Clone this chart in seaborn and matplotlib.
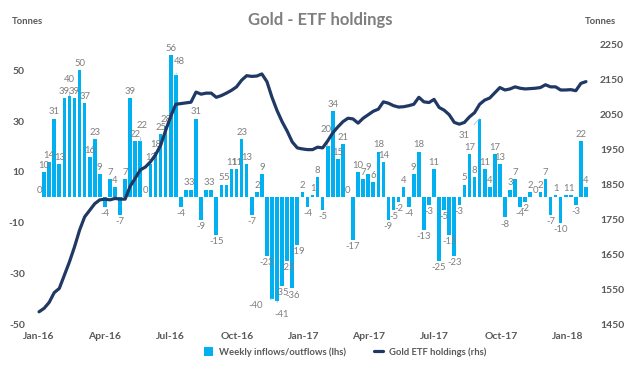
import numpy as np
import pandas as pd
import matplotlib
matplotlib.use("Agg")
import matplotlib.pyplot as plt
import seaborn as sns
from matplotlib.lines import Line2D
from matplotlib.patches import Patch

# ---------------- data ----------------
start_date = "2016-01-01"
flows = [0, 10, 14, 31, 13, 39, 40, 39, 50, 37, 16, 23, 9, -4, 7, 4, -7, 7, 39, 22,
         22, 0, 13, 18, 25, 28, 56, 48, -4, 3, 3, 31, -9, 3, 3, -15, 5, 5, 11, 11,
         23, 13, -7, 2, 9, -23, -40, -41, -35, -25, -36, -19, 2, -4, 1, 8, -5, 20, 34, 15,
         21, 0, -17, 10, 7, 9, 6, 18, 14, -9, -5, -2, 4, -4, 9, 18, -13, -3, 11, -25,
         -5, -15, -23, -3, 5, 17, 8, 31, 11, 4, 17, 13, -8, 3, 7, -4, -2, 2, 0, 2,
         7, -7, 1, -10, 1, 1, -3, 22, 4]
holdings = [1485, 1495, 1512, 1540, 1552, 1590, 1628, 1671, 1719, 1757, 1776, 1795, 1806, 1808,
            1806, 1810, 1808, 1808, 1845, 1868, 1892, 1900, 1915, 1935, 1962, 2005, 2045, 2080,
            2082, 2084, 2086, 2115, 2109, 2112, 2112, 2100, 2105, 2112, 2120, 2130, 2149, 2162,
            2160, 2161, 2167, 2145, 2100, 2062, 2030, 2003, 1972, 1955, 1952, 1950, 1950, 1957,
            1955, 1975, 1998, 2015, 2030, 2040, 2038, 2026, 2040, 2050, 2060, 2066, 2087, 2083,
            2076, 2072, 2073, 2076, 2080, 2100, 2087, 2085, 2094, 2071, 2063, 2050, 2028, 2023,
            2028, 2044, 2056, 2080, 2092, 2098, 2113, 2128, 2121, 2124, 2130, 2126, 2124, 2125,
            2126, 2128, 2136, 2130, 2130, 2121, 2121, 2122, 2119, 2140, 2145]
tick_dates = pd.date_range("2016-01-01", "2018-01-01", freq="QS")
tick_labels = [d.strftime("%b-%y") for d in tick_dates]
left_ticks = [-50, -30, -10, 10, 30, 50]
right_ticks = list(range(1450, 2251, 100))
title = "Gold - ETF holdings"
bar_name = "Weekly inflows/outflows (lhs)"
line_name = "Gold ETF holdings (rhs)"

# ---------------- style ----------------
BAR = "#00b0f0"
LINE = "#1f3864"
TXT = "#595959"
LBL = "#7f7f7f"
LEAD = "#9dc3e6"

sns.set_theme(style="white")
plt.rcParams["font.family"] = ["Lato", "DejaVu Sans"]

fig = plt.figure(figsize=(6.4, 3.75), dpi=100)
ax = fig.add_axes([36 / 640, 51 / 375, 553 / 640, 279 / 375])

weeks = np.arange(len(flows))
df = pd.DataFrame({"week": weeks, "flow": flows, "holdings": holdings})

sns.barplot(data=df, x="week", y="flow", color=BAR, saturation=1, width=0.72,
            linewidth=0, ax=ax)
ax2 = ax.twinx()
sns.lineplot(data=df, x="week", y="holdings", color=LINE, linewidth=2.3, ax=ax2)

ax.set_ylim(-50, 60)
ax2.set_ylim(1450, 2250)
ax.set_xlim(-0.6, len(flows) - 0.4)

ax.set_yticks(left_ticks)
ax.set_yticklabels([str(t) for t in left_ticks])
ax2.set_yticks(right_ticks)
ax2.set_yticklabels([str(t) for t in right_ticks])

start = pd.Timestamp(start_date)
tick_pos = [(d - start).days / 7 for d in tick_dates]
ax.set_xticks(tick_pos)
ax.set_xticklabels(tick_labels)

for a in (ax, ax2):
    for s in a.spines.values():
        s.set_visible(False)
    a.tick_params(length=0, labelsize=7.5, labelcolor=TXT)
    a.set_xlabel("")
    a.set_ylabel("")
    a.grid(False)
ax.tick_params(axis="x", pad=6)
ax.tick_params(axis="y", pad=8)
ax2.tick_params(axis="y", pad=8)
for lab in ax.get_xticklabels() + ax.get_yticklabels() + ax2.get_yticklabels():
    lab.set_fontweight("bold")

# ---------------- bar labels ----------------
px = 0.72  # points per pixel
special = {6: (0, 16), 20: (2, 16), 27: (4, 14), 46: (-16, -7), 47: (5, -13),
           57: (-2, 17), 87: (-16, -17)}
for i, v in enumerate(flows):
    if v >= 0:
        dx, dy, va = 0, 1.5, "bottom"
    else:
        dx, dy, va = 0, -1.5, "top"
    if i in special:
        ox, oy = special[i]
        ax.annotate(str(v), xy=(i, v), xytext=(ox * px, oy * px), textcoords="offset points",
                    ha="center", va="center", fontsize=6.8, color=LBL,
                    arrowprops=dict(arrowstyle="-", color=LEAD, lw=0.6, shrinkA=3, shrinkB=0))
    else:
        ax.annotate(str(v), xy=(i, v), xytext=(dx, dy), textcoords="offset points",
                    ha="center", va=va, fontsize=6.8, color=LBL)

# ---------------- texts ----------------
fig.text(0.5, 1 - 20 / 375, title, ha="center", va="center", fontsize=12,
         fontweight="bold", color="#7f7f7f")
fig.text(27 / 640, 1 - 22 / 375, "Tonnes", ha="center", va="center", fontsize=6.8,
         fontweight="bold", color=TXT)
fig.text(600 / 640, 1 - 22 / 375, "Tonnes", ha="center", va="center", fontsize=6.8,
         fontweight="bold", color=TXT)

handles = [Patch(facecolor=BAR, edgecolor="none", label=bar_name),
           Line2D([0], [0], color=LINE, lw=2.3, label=line_name)]
leg = fig.legend(handles=handles, loc="center", bbox_to_anchor=(345 / 640, 1 - 352 / 375),
                 ncol=2, frameon=False, fontsize=6.8, handlelength=1.0, handleheight=1.0,
                 columnspacing=3.0, handletextpad=0.6, labelcolor=TXT)
for t in leg.get_texts():
    t.set_fontweight("bold")

fig.savefig("out.png", dpi=100)
